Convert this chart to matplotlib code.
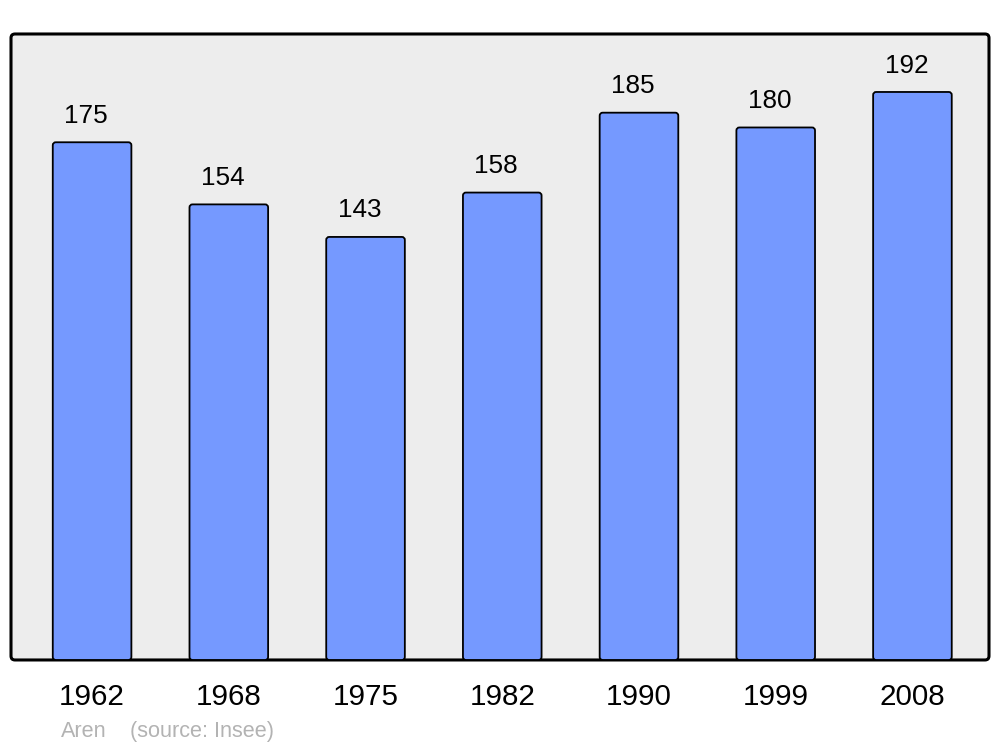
import matplotlib
matplotlib.use("Agg")
import matplotlib.pyplot as plt
from matplotlib.patches import FancyBboxPatch

plt.rcParams['font.family'] = ['Liberation Sans', 'DejaVu Sans']

years = ["1962", "1968", "1975", "1982", "1990", "1999", "2008"]
population = [175, 154, 143, 158, 185, 180, 192]

BAR_COLOR = "#7599ff"
BG_COLOR = "#ededed"

fig = plt.figure(figsize=(10, 7.47), dpi=100)
ax = fig.add_axes([0.011, 0.1165, 0.978, 0.838])
ax.set_facecolor("none")

# rounded frame behind the bars
frame = FancyBboxPatch((0.011, 0.1165), 0.978, 0.838,
                       boxstyle="round,pad=0,rounding_size=0.004",
                       mutation_aspect=1000 / 747,
                       transform=fig.transFigure, facecolor=BG_COLOR,
                       edgecolor="black", linewidth=2.2, zorder=0,
                       clip_on=False)
ax.add_artist(frame)

ax.set_xlim(-0.593, 6.56)
ax.set_ylim(0, 211.6)

x = range(len(years))
bars = ax.bar(x, population, width=0.575, color="none", linewidth=0)
# redraw bars with slightly rounded corners
for b in bars:
    rb = FancyBboxPatch((b.get_x(), b.get_y()), b.get_width(), b.get_height(),
                        boxstyle="round,pad=0,rounding_size=0.022",
                        mutation_aspect=46.2, facecolor=BAR_COLOR,
                        edgecolor="black", linewidth=1.3, zorder=2)
    ax.add_patch(rb)

for xi, v in zip(x, population):
    ax.annotate(f"{v}", (xi, v), xytext=(-4.3, 14), textcoords="offset points",
                ha="center", va="baseline", fontsize=18.8)

ax.set_xticks(list(x))
ax.set_xticklabels(years, fontsize=21.3)
ax.tick_params(axis="x", length=0, pad=16.5)
ax.set_yticks([])
for s in ax.spines.values():
    s.set_visible(False)

fig.text(0.061, 0.014, "Aren", color="#b3b3b3", fontsize=15.6, va="baseline")
fig.text(0.130, 0.014, "(source: Insee)", color="#b3b3b3", fontsize=15.6, va="baseline")

fig.savefig("out.png", dpi=100)
